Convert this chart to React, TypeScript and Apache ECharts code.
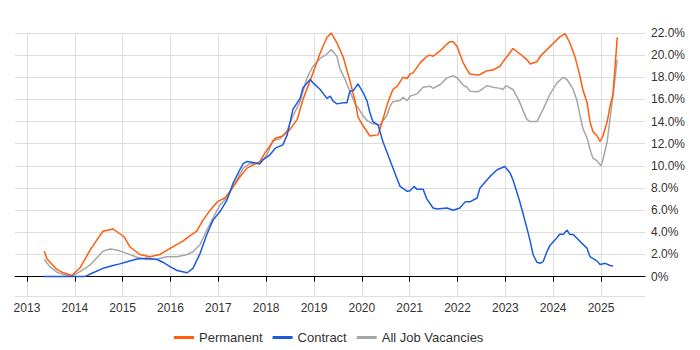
import React, { useEffect, useRef } from "react";
import * as echarts from "echarts";

const seriesNames = ["Permanent", "Contract", "All Job Vacancies"];
const yearTicks = [2013, 2014, 2015, 2016, 2017, 2018, 2019, 2020, 2021, 2022, 2023, 2024, 2025];

const permYears = [
  2013.36, 2013.42, 2013.61, 2013.73, 2013.94, 2014.11, 2014.32, 2014.46, 2014.59, 2014.8,
  2015.03, 2015.15, 2015.36, 2015.57, 2015.78, 2015.93, 2016.09, 2016.26, 2016.41, 2016.55,
  2016.68, 2016.83, 2016.99, 2017.14, 2017.31, 2017.45, 2017.6, 2017.87, 2017.98, 2018.19,
  2018.35, 2018.5, 2018.65, 2018.77, 2018.98, 2019.13, 2019.27, 2019.36, 2019.48, 2019.61,
  2019.75, 2019.86, 2019.92, 2020.03, 2020.17, 2020.34, 2020.42, 2020.55, 2020.65, 2020.74,
  2020.86, 2020.95, 2021.01, 2021.07, 2021.22, 2021.36, 2021.43, 2021.49, 2021.64, 2021.78,
  2021.84, 2021.91, 2021.99, 2022.05, 2022.12, 2022.2, 2022.26, 2022.41, 2022.47, 2022.62,
  2022.74, 2022.89, 2022.95, 2023.04, 2023.16, 2023.31, 2023.45, 2023.52, 2023.66, 2023.73,
  2023.87, 2024.0, 2024.14, 2024.25, 2024.35, 2024.46, 2024.56, 2024.62, 2024.71, 2024.77,
  2024.83, 2024.92, 2024.98, 2025.04, 2025.13, 2025.19, 2025.25, 2025.34,
];
const permValues = [
  2.3, 1.6, 0.7, 0.4, 0.1, 0.8, 2.4, 3.3, 4.1, 4.3,
  3.6, 2.7, 2.0, 1.8, 2.0, 2.4, 2.8, 3.2, 3.7, 4.1,
  5.1, 6.0, 6.8, 7.1, 8.1, 9.0, 9.8, 10.4, 11.2, 12.5,
  12.7, 13.3, 14.2, 16.0, 18.4, 20.2, 21.6, 22.0, 21.1, 19.85,
  17.7, 15.85, 14.4, 13.6, 12.7, 12.8, 13.9, 15.8, 16.9, 17.2,
  18.0, 17.9, 18.3, 18.4, 19.3, 19.9, 20.0, 19.9, 20.4, 21.0,
  21.2, 21.2, 20.8, 20.1, 19.3, 18.7, 18.3, 18.2, 18.25, 18.6,
  18.65, 19.0, 19.4, 19.9, 20.6, 20.1, 19.6, 19.2, 19.4, 19.9,
  20.5, 21.05, 21.65, 21.95, 21.1, 19.8, 18.1, 16.9, 15.7, 14.0,
  13.1, 12.7, 12.2, 12.7, 14.0, 15.4, 16.45, 21.6,
];

const contractYears = [
  2013.36, 2013.69, 2014.21, 2014.38, 2014.59, 2014.8, 2014.94, 2015.09, 2015.3, 2015.51,
  2015.72, 2015.84, 2015.99, 2016.14, 2016.35, 2016.47, 2016.62, 2016.76, 2016.89, 2017.04,
  2017.18, 2017.31, 2017.45, 2017.52, 2017.6, 2017.73, 2017.87, 2017.93, 2018.08, 2018.19,
  2018.35, 2018.44, 2018.56, 2018.71, 2018.77, 2018.92, 2018.98, 2019.13, 2019.27, 2019.34,
  2019.4, 2019.48, 2019.61, 2019.69, 2019.75, 2019.82, 2019.92, 2020.03, 2020.11, 2020.17,
  2020.23, 2020.34, 2020.44, 2020.59, 2020.74, 2020.8, 2020.95, 2021.01, 2021.09, 2021.15,
  2021.28, 2021.36, 2021.49, 2021.57, 2021.78, 2021.91, 2022.05, 2022.16, 2022.26, 2022.41,
  2022.47, 2022.53, 2022.68, 2022.83, 2022.99, 2023.1, 2023.16, 2023.29, 2023.37, 2023.45,
  2023.52, 2023.58, 2023.66, 2023.73, 2023.79, 2023.87, 2023.93, 2024.08, 2024.14, 2024.21,
  2024.29, 2024.35, 2024.42, 2024.56, 2024.71, 2024.77, 2024.83, 2024.92, 2024.98, 2025.09,
  2025.19, 2025.25,
];
const contractValues = [
  0, 0, 0, 0.35, 0.75, 1.0, 1.15, 1.35, 1.6, 1.65,
  1.55, 1.3, 0.9, 0.55, 0.35, 0.75, 2.1, 3.8, 5.1, 5.9,
  6.9, 8.45, 9.65, 10.2, 10.4, 10.3, 10.2, 10.55, 11.0, 11.6,
  11.9, 12.8, 15.1, 16.1, 17.05, 17.8, 17.5, 16.9, 16.1, 16.3,
  15.85, 15.6, 15.7, 15.7, 16.75, 16.8, 17.4, 16.6, 15.85, 14.8,
  14.0, 13.7, 12.2, 10.5, 8.8, 8.15, 7.7, 7.75, 8.15, 7.9,
  7.9, 7.0, 6.2, 6.1, 6.2, 6.0, 6.2, 6.75, 6.75, 7.1,
  8.0, 8.3, 9.05, 9.65, 9.95, 9.35, 8.75, 6.95, 5.7, 4.4,
  3.2, 2.0, 1.3, 1.2, 1.35, 2.25, 2.8, 3.5, 3.85, 3.8,
  4.2, 3.8, 3.8, 3.2, 2.55, 1.8, 1.65, 1.4, 1.1, 1.2,
  1.0, 0.95,
];

const allYears = [
  2013.36, 2013.48, 2013.63, 2013.75, 2013.94, 2014.11, 2014.32, 2014.59, 2014.74, 2014.88,
  2015.09, 2015.3, 2015.51, 2015.72, 2015.93, 2016.14, 2016.35, 2016.47, 2016.62, 2016.76,
  2016.89, 2017.04, 2017.18, 2017.31, 2017.52, 2017.66, 2017.87, 2018.02, 2018.14, 2018.29,
  2018.44, 2018.56, 2018.71, 2018.85, 2018.98, 2019.13, 2019.27, 2019.36, 2019.48, 2019.54,
  2019.65, 2019.75, 2019.86, 2019.96, 2020.03, 2020.11, 2020.23, 2020.38, 2020.53, 2020.59,
  2020.65, 2020.8, 2020.86, 2020.95, 2021.01, 2021.15, 2021.28, 2021.43, 2021.49, 2021.64,
  2021.78, 2021.91, 2021.99, 2022.12, 2022.2, 2022.26, 2022.41, 2022.47, 2022.62, 2022.74,
  2022.89, 2022.95, 2023.01, 2023.16, 2023.29, 2023.45, 2023.52, 2023.66, 2023.79, 2023.93,
  2024.08, 2024.21, 2024.29, 2024.42, 2024.5, 2024.56, 2024.62, 2024.71, 2024.77, 2024.83,
  2024.92, 2025.0, 2025.04, 2025.13, 2025.19, 2025.25, 2025.34,
];
const allValues = [
  1.55, 0.9, 0.4, 0.2, 0.05, 0.45, 1.05, 2.3, 2.5, 2.4,
  2.1, 1.75, 1.55, 1.6, 1.8, 1.8, 2.0, 2.25, 2.9, 4.2,
  5.3, 6.5, 7.1, 8.1, 9.8, 10.2, 10.2, 11.0, 12.3, 12.45,
  13.2, 14.5, 15.8, 17.9, 19.0, 19.7, 20.1, 20.5, 19.9, 18.8,
  17.8, 16.75, 15.6, 15.0, 14.5, 14.1, 13.8, 13.7, 14.6, 15.4,
  15.8, 15.9, 16.2, 15.9, 16.3, 16.5, 17.1, 17.2, 17.0, 17.35,
  17.95, 18.15, 17.95, 17.3, 17.1, 16.75, 16.7, 16.8, 17.25, 17.1,
  17.0, 16.9, 17.25, 16.9, 15.85, 14.2, 14.0, 14.0, 15.1, 16.45,
  17.5, 18.0, 17.8, 16.9, 15.85, 14.6, 13.4, 12.5, 11.5, 10.7,
  10.45, 10.0, 10.55, 12.2, 14.3, 16.3, 19.6,
];

const colors = ["#ff5c0c", "#1c5ae0", "#a6a6a6"];
const FONT = "'Liberation Sans', Arial, sans-serif";

function zip(xs: number[], ys: number[]) {
  return xs.map((x, i) => [x, ys[i]]);
}

export default function App() {
  const ref = useRef<HTMLDivElement>(null);
  useEffect(() => {
    if (!ref.current) return;
    const chart = echarts.init(ref.current, null, { renderer: "svg" });
    const lineSeries = [
      zip(permYears, permValues),
      zip(contractYears, contractValues),
      zip(allYears, allValues),
    ].map((data, i) => ({
      name: seriesNames[i],
      type: "line",
      data,
      showSymbol: false,
      symbol: "none",
      lineStyle: { width: 1.5, color: colors[i] },
      itemStyle: { color: colors[i] },
      z: [3, 4, 2][i],
    }));
    chart.setOption({
      animation: false,
      textStyle: { fontFamily: FONT },
      grid: { left: 15, right: 55, top: 33, bottom: 54 },
      legend: {
        data: seriesNames,
        left: 169,
        top: 326,
        icon: "rect",
        itemWidth: 20,
        itemHeight: 3,
        itemGap: 10,
        textStyle: { fontSize: 13, color: "#333", fontFamily: FONT },
      },
      xAxis: {
        type: "value",
        min: 2012.75,
        max: 2025.92,
        splitNumber: 13,
        axisLine: { show: true, lineStyle: { color: "#000", width: 1 } },
        axisTick: { show: true, length: 5, lineStyle: { color: "#000" }, customValues: yearTicks },
        axisLabel: {
          customValues: yearTicks,
          formatter: (v: number) => String(Math.round(v)),
          fontSize: 12,
          color: "#333",
          margin: 6,
          fontFamily: FONT,
        },
        splitLine: { show: true, lineStyle: { color: "#dddddd" } },
      },
      yAxis: {
        type: "value",
        position: "right",
        min: -1.75,
        max: 22,
        splitNumber: 12,
        axisLine: { show: false },
        axisTick: { show: false },
        axisLabel: {
          showMinLabel: false,
          formatter: (v: number) => (v === 0 ? "0%" : v.toFixed(1) + "%"),
          fontSize: 12,
          color: "#333",
          margin: 6,
          fontFamily: FONT,
        },
        splitLine: { show: true, lineStyle: { color: "#dddddd" } },
      },
      series: lineSeries,
    });
    return () => chart.dispose();
  }, []);
  return (
    <div
      ref={ref}
      style={{ position: "fixed", left: 0, top: 0, width: 700, height: 350, background: "#fff" }}
    />
  );
}
